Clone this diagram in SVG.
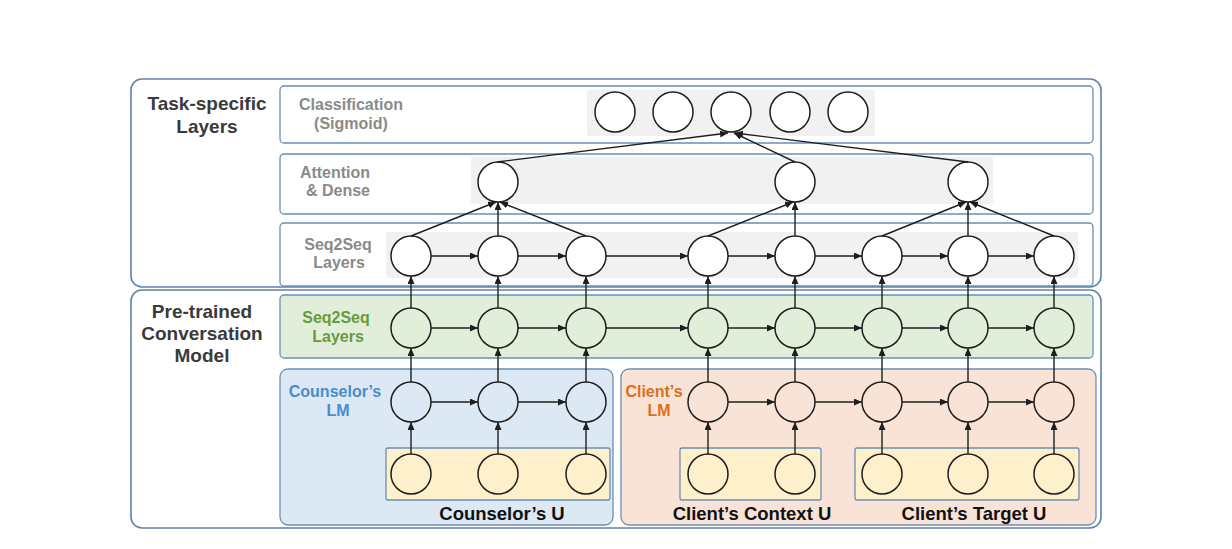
<svg xmlns="http://www.w3.org/2000/svg" width="1232" height="549" viewBox="0 0 1232 549">
<style>
.outer{fill:#ffffff;stroke:#5d82ab;stroke-width:1.6}
.row{fill:#ffffff;stroke:#6a8fb8;stroke-width:1.3}
.green{fill:#e1eed9;stroke:#6a8fb8;stroke-width:1.3}
.blue{fill:#dce8f4;stroke:#6a8fb8;stroke-width:1.3}
.orange{fill:#f9e3d7;stroke:#6a8fb8;stroke-width:1.3}
.yellow{fill:#fef0cb;stroke:#6a8fb8;stroke-width:1.3}
.gray{fill:#f1f1f1;stroke:none}
.cw{fill:#ffffff;stroke:#1e1e1e;stroke-width:1.5}
.ct{fill:none;stroke:#1e1e1e;stroke-width:1.5}
.big{font-family:"Liberation Sans",Arial,sans-serif;font-weight:bold;font-size:19px;fill:#3a3a3a;text-anchor:middle}
.lab{font-family:"Liberation Sans",Arial,sans-serif;font-weight:bold;font-size:16px;fill:#8a8a8a;text-anchor:middle}
.bot{font-family:"Liberation Sans",Arial,sans-serif;font-weight:bold;font-size:18.5px;fill:#111111;text-anchor:middle}
.conn line{stroke:#1e1e1e;stroke-width:1.4;marker-end:url(#ah)}
</style>
<defs>
<marker id="ah" markerUnits="userSpaceOnUse" markerWidth="9" markerHeight="8" refX="8" refY="3.5" orient="auto">
<path d="M0,0 L8,3.5 L0,7 z" fill="#1e1e1e"/>
</marker>
</defs>

<g id="task-specific">
<rect class="outer" x="131" y="79" width="970" height="208" rx="11"/>
<text class="big" x="207" y="110">Task-specific</text>
<text class="big" x="207" y="133">Layers</text>
</g>
<g id="pretrained">
<rect class="outer" x="131" y="290" width="970" height="238" rx="11"/>
<text class="big" x="202" y="318">Pre-trained</text>
<text class="big" x="202" y="340">Conversation</text>
<text class="big" x="202" y="362">Model</text>
</g>

<g id="classification-row">
<rect class="row" x="280" y="86" width="813" height="57" rx="4"/>
<rect class="gray" x="587" y="90" width="288" height="46" rx="2"/>
<text class="lab" x="351" y="110">Classification</text>
<text class="lab" x="351" y="129">(Sigmoid)</text>
<circle class="cw" cx="615" cy="112" r="20"/>
<circle class="cw" cx="673" cy="112" r="20"/>
<circle class="cw" cx="731" cy="112" r="20"/>
<circle class="cw" cx="790" cy="112" r="20"/>
<circle class="cw" cx="848" cy="112" r="20"/>
</g>

<g id="attention-row">
<rect class="row" x="280" y="154" width="813" height="60" rx="4"/>
<rect class="gray" x="471" y="157" width="522" height="47" rx="2"/>
<text class="lab" x="335" y="178">Attention</text>
<text class="lab" x="338" y="196">&amp; Dense</text>
<circle class="cw" cx="498" cy="182" r="20"/>
<circle class="cw" cx="795" cy="182" r="20"/>
<circle class="cw" cx="968" cy="182" r="20"/>
</g>

<g id="seq2seq-task-row">
<rect class="row" x="280" y="223" width="813" height="63" rx="4"/>
<rect class="gray" x="386" y="232" width="692" height="46" rx="2"/>
<text class="lab" x="338" y="250">Seq2Seq</text>
<text class="lab" x="339" y="268">Layers</text>
<circle class="cw" cx="411" cy="256" r="20"/>
<circle class="cw" cx="498" cy="256" r="20"/>
<circle class="cw" cx="586" cy="256" r="20"/>
<circle class="cw" cx="708" cy="256" r="20"/>
<circle class="cw" cx="795" cy="256" r="20"/>
<circle class="cw" cx="882" cy="256" r="20"/>
<circle class="cw" cx="968" cy="256" r="20"/>
<circle class="cw" cx="1054" cy="256" r="20"/>
</g>

<g id="seq2seq-pretrained-row">
<rect class="green" x="280" y="295" width="813" height="63" rx="4"/>
<text class="lab" x="336" y="323" style="fill:#6a9a3c">Seq2Seq</text>
<text class="lab" x="338" y="342" style="fill:#6a9a3c">Layers</text>
<circle class="ct" cx="411" cy="328" r="20"/>
<circle class="ct" cx="498" cy="328" r="20"/>
<circle class="ct" cx="586" cy="328" r="20"/>
<circle class="ct" cx="708" cy="328" r="20"/>
<circle class="ct" cx="795" cy="328" r="20"/>
<circle class="ct" cx="882" cy="328" r="20"/>
<circle class="ct" cx="968" cy="328" r="20"/>
<circle class="ct" cx="1054" cy="328" r="20"/>
</g>

<g id="counselor-lm">
<rect class="blue" x="280" y="369" width="333" height="156" rx="8"/>
<text class="lab" x="335" y="397" style="fill:#4a8ccc">Counselor’s</text>
<text class="lab" x="338" y="416" style="fill:#4a8ccc">LM</text>
<circle class="ct" cx="411" cy="402" r="20"/>
<circle class="ct" cx="498" cy="402" r="20"/>
<circle class="ct" cx="586" cy="402" r="20"/>
</g>
<g id="counselor-u">
<rect class="yellow" x="386" y="448" width="224" height="52" rx="2"/>
<circle class="ct" cx="411" cy="474" r="20"/>
<circle class="ct" cx="498" cy="474" r="20"/>
<circle class="ct" cx="586" cy="474" r="20"/>
<text class="bot" x="502" y="520">Counselor’s U</text>
</g>

<g id="client-lm">
<rect class="orange" x="621" y="369" width="475" height="156" rx="8"/>
<text class="lab" x="654" y="397" style="fill:#d9701f">Client’s</text>
<text class="lab" x="659" y="416" style="fill:#d9701f">LM</text>
<circle class="ct" cx="708" cy="402" r="20"/>
<circle class="ct" cx="795" cy="402" r="20"/>
<circle class="ct" cx="882" cy="402" r="20"/>
<circle class="ct" cx="968" cy="402" r="20"/>
<circle class="ct" cx="1054" cy="402" r="20"/>
</g>
<g id="client-context-u">
<rect class="yellow" x="680" y="448" width="141" height="52" rx="2"/>
<circle class="ct" cx="708" cy="474" r="20"/>
<circle class="ct" cx="795" cy="474" r="20"/>
<text class="bot" x="752" y="520">Client’s Context U</text>
</g>
<g id="client-target-u">
<rect class="yellow" x="855" y="448" width="224" height="52" rx="2"/>
<circle class="ct" cx="882" cy="474" r="20"/>
<circle class="ct" cx="968" cy="474" r="20"/>
<circle class="ct" cx="1054" cy="474" r="20"/>
<text class="bot" x="974" y="520">Client’s Target U</text>
</g>

<g id="connectors" class="conn">
<line x1="411" y1="454" x2="411" y2="422"/>
<line x1="498" y1="454" x2="498" y2="422"/>
<line x1="586" y1="454" x2="586" y2="422"/>
<line x1="708" y1="454" x2="708" y2="422"/>
<line x1="795" y1="454" x2="795" y2="422"/>
<line x1="882" y1="454" x2="882" y2="422"/>
<line x1="968" y1="454" x2="968" y2="422"/>
<line x1="1054" y1="454" x2="1054" y2="422"/>
<line x1="431" y1="402" x2="478" y2="402"/>
<line x1="518" y1="402" x2="566" y2="402"/>
<line x1="728" y1="402" x2="775" y2="402"/>
<line x1="815" y1="402" x2="862" y2="402"/>
<line x1="902" y1="402" x2="948" y2="402"/>
<line x1="988" y1="402" x2="1034" y2="402"/>
<line x1="411" y1="382" x2="411" y2="348"/>
<line x1="498" y1="382" x2="498" y2="348"/>
<line x1="586" y1="382" x2="586" y2="348"/>
<line x1="708" y1="382" x2="708" y2="348"/>
<line x1="795" y1="382" x2="795" y2="348"/>
<line x1="882" y1="382" x2="882" y2="348"/>
<line x1="968" y1="382" x2="968" y2="348"/>
<line x1="1054" y1="382" x2="1054" y2="348"/>
<line x1="431" y1="328" x2="478" y2="328"/>
<line x1="518" y1="328" x2="566" y2="328"/>
<line x1="606" y1="328" x2="688" y2="328"/>
<line x1="728" y1="328" x2="775" y2="328"/>
<line x1="815" y1="328" x2="862" y2="328"/>
<line x1="902" y1="328" x2="948" y2="328"/>
<line x1="988" y1="328" x2="1034" y2="328"/>
<line x1="411" y1="308" x2="411" y2="276"/>
<line x1="498" y1="308" x2="498" y2="276"/>
<line x1="586" y1="308" x2="586" y2="276"/>
<line x1="708" y1="308" x2="708" y2="276"/>
<line x1="795" y1="308" x2="795" y2="276"/>
<line x1="882" y1="308" x2="882" y2="276"/>
<line x1="968" y1="308" x2="968" y2="276"/>
<line x1="1054" y1="308" x2="1054" y2="276"/>
<line x1="431" y1="256" x2="478" y2="256"/>
<line x1="518" y1="256" x2="566" y2="256"/>
<line x1="606" y1="256" x2="688" y2="256"/>
<line x1="728" y1="256" x2="775" y2="256"/>
<line x1="815" y1="256" x2="862" y2="256"/>
<line x1="902" y1="256" x2="948" y2="256"/>
<line x1="988" y1="256" x2="1034" y2="256"/>
<line x1="411" y1="236" x2="496" y2="202"/>
<line x1="498" y1="236" x2="498" y2="202"/>
<line x1="586" y1="236" x2="500" y2="202"/>
<line x1="708" y1="236" x2="793" y2="202"/>
<line x1="795" y1="236" x2="795" y2="202"/>
<line x1="882" y1="236" x2="966" y2="202"/>
<line x1="968" y1="236" x2="968" y2="202"/>
<line x1="1054" y1="236" x2="970" y2="202"/>
<line x1="497" y1="162" x2="728" y2="133"/>
<line x1="795" y1="162" x2="734" y2="133"/>
<line x1="968" y1="162" x2="735" y2="133"/>
</g>
</svg>
